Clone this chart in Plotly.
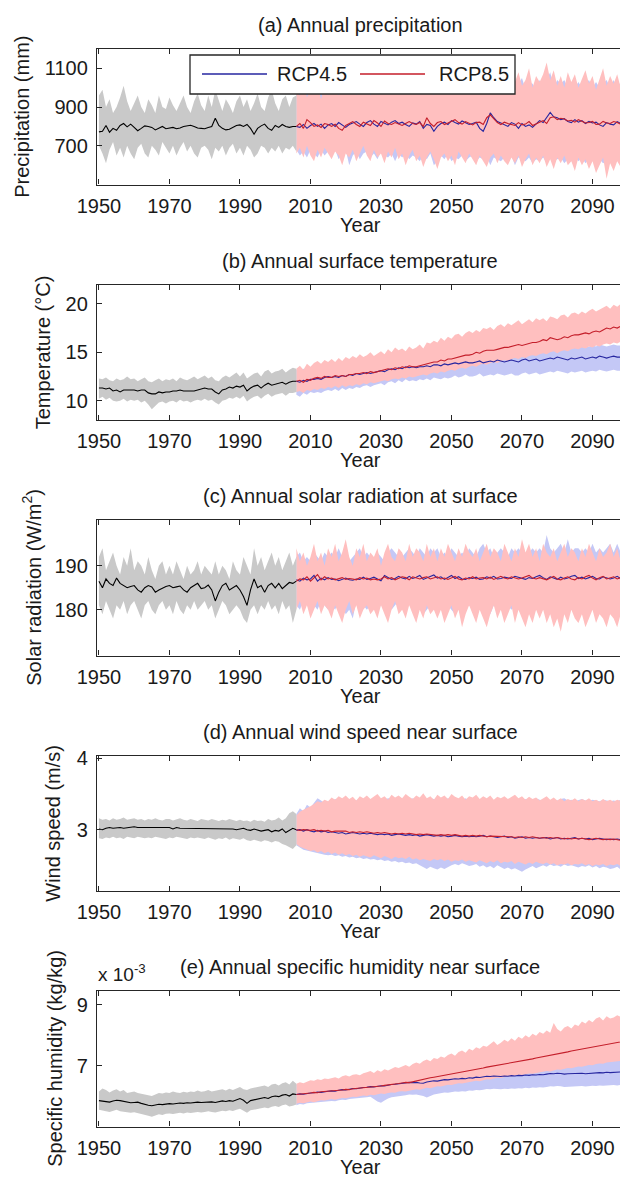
import plotly.graph_objects as go

# ---------------------------------------------------------------- data
hist_years = list(range(1950, 2007))      # historical run (black)
future_years = list(range(2006, 2101))    # RCP scenarios

# (a) precipitation (mm)
precip_hist_mean = [772, 775, 805, 770, 790, 780, 805, 815, 798, 812,
                    795, 778, 790, 803, 800, 795, 782, 792, 800, 788,
                    790, 795, 788, 792, 800, 803, 806, 800, 792, 790,
                    788, 795, 800, 842, 805, 790, 782, 785, 795, 805,
                    808, 800, 810, 790, 760, 790, 803, 812, 790, 780,
                    805, 795, 810, 800, 795, 800, 800]
precip_hist_hi = [960, 990, 900, 940, 870, 900, 950, 1010, 930, 880,
                  920, 960, 900, 870, 940, 910, 870, 960, 900, 890,
                  950, 910, 880, 920, 960, 900, 870, 930, 970, 910,
                  880, 960, 900, 990, 930, 880, 940, 910, 870, 930,
                  960, 900, 940, 880, 920, 970, 900, 880, 950, 990,
                  920, 880, 940, 960, 900, 950, 960]
precip_hist_lo = [700, 660, 610, 680, 720, 650, 690, 640, 700, 660,
                  630, 690, 710, 660, 640, 700, 680, 650, 720, 690,
                  660, 700, 650, 690, 720, 670, 700, 660, 640, 690,
                  700, 680, 630, 690, 670, 700, 650, 690, 710, 660,
                  690, 650, 700, 680, 640, 660, 700, 690, 660, 690,
                  670, 700, 660, 690, 680, 700, 670]
precip_85_mean = [800, 815, 790, 835, 820, 800, 808, 795, 815, 810,
                  800, 812, 790, 780, 805, 815, 825, 810, 800, 822,
                  812, 805, 830, 818, 800, 828, 815, 810, 820, 812,
                  805, 815, 825, 815, 810, 820, 800, 845, 815, 800,
                  820, 825, 810, 818, 828, 835, 820, 812, 825, 815,
                  808, 820, 822, 810, 845, 860, 842, 820, 810, 822,
                  815, 810, 805, 820, 808, 812, 825, 805, 815, 822,
                  830, 815, 845, 850, 835, 842, 838, 828, 832, 822,
                  835, 825, 818, 820, 826, 810, 812, 826, 818, 815,
                  825, 820, 812, 830, 822]
precip_45_mean = [800, 795, 810, 790, 805, 815, 800, 812, 790, 808,
                  815, 800, 820, 808, 795, 810, 818, 825, 812, 800,
                  820, 830, 812, 800, 826, 815, 808, 822, 830, 815,
                  822, 810, 800, 818, 812, 825, 790, 810, 805, 775,
                  800, 815, 822, 810, 830, 820, 812, 828, 818, 810,
                  815, 822, 790, 775, 815, 870, 845, 825, 818, 810,
                  800, 820, 812, 790, 815, 800, 808, 795, 812, 830,
                  820, 845, 872, 850, 845, 835, 840, 826, 820, 835,
                  822, 830, 815, 826, 818, 822, 808, 800, 820, 812,
                  808, 825, 815, 805, 820]
precip_85_hi = [980, 960, 1040, 950, 1000, 980, 1020, 940, 1010, 960,
                1060, 1000, 960, 1040, 990, 1080, 1010, 960, 1050, 990,
                1000, 960, 1040, 1080, 990, 1020, 1110, 970, 1040, 1000,
                1030, 970, 1090, 1000, 1060, 1100, 990, 1050, 1020, 960,
                1040, 990, 1070, 1010, 1060, 980, 1030, 1090, 1000, 1050,
                990, 1070, 1020, 1060, 980, 1040, 1080, 1000, 1050, 1010,
                1060, 990, 1030, 1080, 1010, 1040, 1100, 1000, 1060, 1030,
                1070, 1130, 1040, 1090, 1010, 1060, 1000, 1080, 1030, 1070,
                1000, 1050, 1090, 1020, 1060, 990, 1040, 1100, 1010, 1060,
                1020, 1070, 1000, 1050, 1030]
precip_85_lo = [660, 690, 640, 700, 650, 620, 680, 640, 690, 660,
                630, 670, 650, 600, 660, 640, 680, 620, 660, 700,
                650, 620, 680, 640, 660, 610, 670, 640, 690, 630,
                660, 600, 650, 680, 620, 650, 590, 640, 670, 630,
                580, 640, 660, 620, 650, 600, 670, 640, 610, 660,
                630, 600, 650, 620, 590, 640, 660, 610, 650, 620,
                600, 640, 610, 650, 590, 630, 660, 600, 640, 610,
                650, 590, 630, 580, 640, 610, 650, 600, 620, 570,
                640, 600, 630, 580, 620, 560, 600, 640, 530, 610,
                570, 620, 590, 630, 600]
precip_45_hi = [960, 1000, 980, 1010, 970, 1000, 960, 1000, 980, 1000,
                1000, 990, 1040, 960, 1000, 1000, 990, 1020, 980, 1000,
                980, 1040, 990, 1000, 1020, 990, 1000, 1050, 990, 1020,
                1000, 1040, 980, 1020, 1000, 1010, 1040, 990, 1000, 1010,
                990, 1030, 1000, 1040, 1000, 1020, 990, 1000, 1040, 990,
                1030, 1000, 1040, 990, 1020, 1000, 1020, 1040, 990, 1030,
                1000, 1030, 1000, 1020, 1050, 990, 1030, 1020, 990, 1040,
                1000, 1040, 1080, 1000, 1040, 1020, 1040, 1000, 1020, 1000,
                1030, 1000, 1020, 1040, 1000, 1030, 1000, 1020, 1040, 1000,
                1040, 1000, 1030, 1000, 1020]
precip_45_lo = [680, 650, 670, 640, 680, 660, 640, 680, 650, 670,
                650, 680, 630, 660, 680, 600, 650, 670, 630, 660,
                670, 640, 660, 630, 670, 650, 640, 660, 620, 660,
                640, 660, 630, 650, 640, 620, 650, 630, 660, 600,
                620, 650, 630, 660, 620, 640, 630, 650, 620, 640,
                650, 620, 640, 630, 650, 600, 640, 630, 620, 640,
                620, 650, 600, 640, 630, 620, 640, 610, 630, 620,
                640, 610, 650, 620, 630, 640, 610, 630, 620, 640,
                620, 640, 610, 630, 640, 600, 630, 610, 620, 630,
                610, 630, 600, 620, 610]

# (b) surface temperature (deg C)
temp_hist_mean = [11.3, 11.3, 11.2, 11.3, 11.0, 11.1, 10.9, 11.1, 11.1, 11.1,
                  11.1, 11.0, 11.1, 11.1, 10.8, 10.7, 10.7, 10.9, 10.8, 10.9,
                  10.9, 11.0, 11.0, 11.1, 11.0, 11.0, 11.0, 11.0, 11.1, 11.2,
                  11.3, 11.2, 11.2, 10.9, 10.7, 11.1, 11.2, 11.4, 11.3, 11.5,
                  11.4, 11.6, 11.0, 11.3, 11.5, 11.6, 11.3, 11.6, 11.8, 11.6,
                  11.7, 11.8, 11.9, 11.7, 11.9, 12.0, 12.0]
temp_hist_hi = [12.3, 12.2, 12.4, 12.1, 12.0, 12.3, 12.1, 12.2, 12.5, 12.2,
                12.3, 12.0, 12.2, 12.4, 12.0, 11.9, 12.1, 12.3, 12.0, 12.2,
                12.1, 12.3, 12.0, 12.4, 12.2, 12.1, 12.3, 12.5, 12.2, 12.4,
                12.6, 12.3, 12.5, 12.1, 12.0, 12.4, 12.6, 12.4, 12.7, 12.9,
                12.5, 12.9, 12.3, 12.6, 12.8, 12.9, 12.5, 13.0, 13.2, 12.8,
                13.0, 13.1, 13.3, 12.9, 13.2, 13.4, 13.3]
temp_hist_lo = [10.2, 10.4, 10.1, 10.3, 10.0, 9.9, 10.0, 10.2, 9.9, 10.1,
                10.0, 10.1, 9.8, 10.0, 9.6, 9.1, 9.5, 9.8, 9.9, 9.7,
                9.9, 10.0, 9.8, 10.1, 9.9, 10.0, 9.8, 10.0, 10.1, 10.0,
                10.2, 10.0, 10.1, 9.8, 9.6, 10.0, 10.1, 10.3, 10.2, 10.4,
                10.2, 10.5, 9.9, 10.2, 10.4, 10.5, 10.2, 10.5, 10.7, 10.4,
                10.6, 10.7, 10.8, 10.5, 10.8, 10.8, 10.9]
temp_85_mean = [12.0, 12.1, 11.9, 12.2, 12.1, 12.3, 12.4, 12.3, 12.5, 12.4,
                12.4, 12.6, 12.5, 12.6, 12.5, 12.7, 12.7, 12.8, 12.8, 12.9,
                12.8, 13.0, 12.9, 13.0, 13.1, 13.2, 13.3, 13.2, 13.4, 13.3,
                13.5, 13.4, 13.6, 13.5, 13.5, 13.6, 13.7, 13.8, 13.9, 14.0,
                14.0, 14.2, 14.1, 14.3, 14.3, 14.4, 14.5, 14.6, 14.7, 14.7,
                14.8, 15.0, 14.9, 15.1, 15.2, 15.2, 15.2, 15.3, 15.4, 15.5,
                15.5, 15.6, 15.7, 15.8, 15.7, 15.8, 15.9, 16.0, 16.0, 16.1,
                16.3, 16.2, 16.5, 16.4, 16.3, 16.4, 16.6, 16.5, 16.7, 16.8,
                16.8, 16.9, 17.0, 16.9, 17.1, 17.2, 17.1, 17.3, 17.5, 17.4,
                17.6, 17.5, 17.7, 17.8, 17.8]
temp_45_mean = [12.0, 11.9, 12.1, 12.0, 12.2, 12.2, 12.3, 12.2, 12.4, 12.5,
                12.4, 12.5, 12.4, 12.6, 12.5, 12.7, 12.6, 12.8, 12.7, 12.8,
                12.9, 12.8, 12.9, 13.0, 13.1, 13.0, 13.2, 13.3, 13.2, 13.4,
                13.3, 13.5, 13.4, 13.5, 13.4, 13.5, 13.5, 13.6, 13.5, 13.7,
                13.7, 13.6, 13.8, 13.7, 13.8, 13.9, 13.8, 13.9, 14.0, 13.9,
                13.9, 14.0, 14.1, 13.9, 14.0, 14.1, 14.0, 14.2, 14.1, 14.0,
                14.1, 14.2, 14.1, 14.0, 14.2, 14.3, 14.1, 14.2, 14.3, 14.1,
                14.2, 14.3, 14.4, 14.3, 14.5, 14.4, 14.3, 14.2, 14.4, 14.3,
                14.4, 14.5, 14.3, 14.4, 14.5, 14.4, 14.6, 14.5, 14.4, 14.5,
                14.6, 14.5, 14.5, 14.6, 14.6]
temp_85_hi = [13.3, 13.6, 13.2, 13.8, 13.5, 13.9, 14.1, 13.8, 14.2, 14.0,
              14.3, 14.0, 14.4, 14.1, 14.5, 14.3, 14.6, 14.4, 14.8, 14.5,
              14.7, 15.0, 14.6, 14.9, 15.1, 14.8, 15.3, 15.0, 15.5, 15.2,
              15.4, 15.1, 15.6, 15.3, 15.5, 15.8, 15.4, 16.0, 15.9, 16.2,
              16.0, 16.5, 16.2, 16.6, 16.4, 16.8, 16.9, 16.6, 17.0, 17.2,
              17.0, 17.3, 17.1, 17.5, 17.4, 17.6, 17.3, 17.7, 17.9, 17.6,
              18.0, 17.8, 18.1, 18.3, 17.9, 18.2, 18.4, 18.1, 18.5, 18.3,
              18.5, 18.2, 18.7, 18.6, 18.4, 18.8, 18.9, 18.6, 19.0, 19.1,
              18.9, 19.2, 19.0, 19.3, 19.5, 19.2, 19.4, 19.6, 19.8, 19.5,
              19.9, 19.7, 20.0, 20.1, 20.0]
temp_85_lo = [10.9, 11.0, 10.8, 11.1, 11.0, 11.2, 11.1, 11.3, 11.2, 11.4,
              11.3, 11.5, 11.3, 11.6, 11.4, 11.6, 11.5, 11.7, 11.6, 11.8,
              11.7, 11.9, 11.8, 11.9, 12.0, 12.1, 12.0, 12.2, 12.3, 12.2,
              12.4, 12.3, 12.5, 12.4, 12.5, 12.6, 12.7, 12.6, 12.8, 12.9,
              12.8, 13.0, 12.9, 13.1, 13.2, 13.1, 13.3, 13.4, 13.3, 13.5,
              13.6, 13.5, 13.7, 13.8, 13.7, 13.9, 14.0, 13.9, 14.1, 14.2,
              14.1, 14.3, 14.4, 14.3, 14.5, 14.4, 14.6, 14.7, 14.6, 14.8,
              14.9, 14.8, 15.0, 15.1, 14.9, 15.1, 15.2, 15.1, 15.3, 15.4,
              15.3, 15.5, 15.4, 15.6, 15.5, 15.7, 15.6, 15.8, 15.9, 15.8,
              16.0, 15.9, 16.1, 16.2, 16.1]
temp_45_hi = [13.2, 13.0, 13.3, 13.2, 13.4, 13.4, 13.5, 13.3, 13.6, 13.7,
              13.6, 13.7, 13.6, 13.8, 13.7, 13.9, 13.8, 14.0, 13.9, 14.0,
              14.1, 14.0, 14.1, 14.2, 14.3, 14.2, 14.4, 14.5, 14.4, 14.6,
              14.5, 14.7, 14.6, 14.7, 14.6, 14.7, 14.7, 14.8, 14.7, 14.9,
              14.9, 14.8, 15.0, 14.9, 15.0, 15.1, 15.0, 15.1, 15.2, 15.1,
              15.1, 15.2, 15.3, 15.1, 15.2, 15.3, 15.2, 15.4, 15.3, 15.2,
              15.3, 15.4, 15.3, 15.2, 15.4, 15.5, 15.3, 15.4, 15.5, 15.3,
              15.4, 15.5, 15.6, 15.5, 15.7, 15.6, 15.5, 15.4, 15.6, 15.5,
              15.6, 15.7, 15.5, 15.6, 15.7, 15.6, 15.8, 15.7, 15.6, 15.7,
              15.8, 15.7, 15.7, 15.8, 15.8]
temp_45_lo = [10.6, 10.4, 10.8, 10.6, 10.9, 10.8, 10.9, 10.8, 11.0, 11.1,
              11.0, 11.2, 11.0, 11.3, 11.1, 11.3, 11.2, 11.4, 11.3, 11.5,
              11.6, 11.4, 11.6, 11.7, 11.8, 11.6, 11.9, 12.0, 11.8, 12.1,
              11.9, 12.2, 12.0, 12.1, 12.0, 12.2, 12.1, 12.3, 12.1, 12.4,
              12.3, 12.2, 12.4, 12.3, 12.4, 12.6, 12.4, 12.5, 12.7, 12.5,
              12.5, 12.6, 12.8, 12.5, 12.6, 12.7, 12.6, 12.8, 12.7, 12.6,
              12.7, 12.8, 12.6, 12.6, 12.8, 12.9, 12.7, 12.8, 12.9, 12.7,
              12.8, 12.9, 13.0, 12.9, 13.1, 13.0, 12.9, 12.8, 13.0, 12.9,
              13.0, 13.1, 12.9, 13.0, 13.1, 13.0, 13.2, 13.1, 13.0, 13.1,
              13.2, 13.1, 13.1, 13.2, 13.2]

# (c) solar radiation at surface (W/m2)
solar_hist_mean = [186.5, 185.0, 187.0, 186.0, 185.5, 187.2, 186.0, 185.5, 185.0, 185.3,
                   185.5, 184.5, 184.0, 185.0, 185.5, 185.2, 184.0, 184.5, 185.0, 185.3,
                   185.5, 185.0, 185.2, 185.4, 184.5, 184.0, 185.0, 185.5, 186.0, 184.8,
                   185.0, 185.6, 184.5, 182.0, 184.0, 185.5, 186.0, 184.5, 185.0, 185.5,
                   184.5, 183.0, 181.0, 184.5, 187.0, 185.0, 185.5, 184.0, 185.5, 186.0,
                   185.0, 186.0, 184.8, 185.5, 186.2, 186.0, 186.5]
solar_hist_hi = [192, 194, 189, 191, 193, 190, 188, 192, 190, 194,
                 189, 191, 190, 188, 192, 189, 187, 190, 191, 188,
                 190, 188, 191, 189, 187, 190, 188, 189, 191, 188,
                 190, 189, 188, 191, 188, 190, 189, 187, 191, 189,
                 188, 192, 190, 188, 194, 190, 192, 189, 191, 193,
                 190, 192, 189, 191, 193, 190, 192]
solar_hist_lo = [181, 179, 182, 180, 178, 181, 180, 182, 179, 181,
                 182, 180, 178, 181, 182, 180, 179, 181, 182, 180,
                 181, 179, 182, 180, 179, 181, 180, 182, 180, 181,
                 182, 180, 181, 178, 180, 182, 181, 179, 180, 181,
                 180, 178, 177, 180, 181, 179, 181, 180, 182, 180,
                 181, 179, 182, 180, 181, 177, 180]
solar_85_mean = [186.5, 187.0, 186.8, 187.5, 186.5, 187.2, 188.0, 186.8, 187.5, 187.0,
                 187.2, 186.8, 187.0, 187.3, 186.9, 187.1, 187.0, 186.8, 187.3, 187.0,
                 187.2, 186.8, 187.0, 186.8, 187.0, 187.5, 187.0, 187.3, 186.8, 187.2,
                 187.5, 187.3, 186.8, 187.5, 187.2, 187.0, 187.3, 187.5, 187.0, 187.2,
                 187.5, 187.0, 187.2, 186.9, 187.3, 187.6, 187.0, 186.8, 187.2, 187.0,
                 187.5, 187.0, 187.2, 187.3, 187.0, 187.4, 186.9, 187.3, 187.6, 187.2,
                 187.0, 187.5, 187.3, 187.0, 187.2, 187.5, 187.8, 187.2, 187.0, 187.3,
                 187.0, 186.8, 187.2, 187.6, 187.0, 186.8, 187.2, 187.5, 187.0, 186.8,
                 187.3, 187.0, 187.5, 187.8, 187.2, 186.8, 187.3, 187.6, 187.0, 187.2,
                 187.5, 187.0, 187.3, 187.6, 187.2]
solar_45_mean = [186.8, 186.5, 187.2, 186.8, 187.0, 187.8, 186.5, 187.2, 186.8, 187.3,
                 186.9, 187.0, 186.6, 186.9, 187.2, 186.8, 186.7, 187.0, 186.9, 187.4,
                 186.9, 187.1, 187.4, 187.0, 186.6, 187.8, 187.3, 186.9, 187.1, 187.6,
                 187.2, 187.0, 187.6, 187.1, 187.4, 187.8, 186.9, 187.2, 187.6, 187.9,
                 187.2, 187.5, 186.9, 187.3, 187.8, 187.1, 187.5, 187.0, 186.9, 187.3,
                 187.1, 187.4, 186.9, 187.0, 187.5, 187.2, 187.6, 187.0, 187.1, 187.4,
                 187.3, 187.1, 187.6, 187.4, 187.1, 186.9, 187.3, 187.1, 187.5, 187.8,
                 187.3, 186.9, 187.5, 187.2, 186.9, 187.4, 187.0, 187.2, 187.6, 187.8,
                 187.1, 187.4, 187.0, 187.3, 187.6, 187.1, 187.0, 187.5, 187.3, 187.0,
                 187.2, 187.6, 187.1, 187.3, 187.4]
solar_85_hi = [194, 191, 193, 190, 192, 195, 191, 193, 190, 194,
               192, 195, 191, 193, 196, 192, 190, 194, 192, 195,
               191, 193, 192, 194, 190, 193, 195, 192, 191, 194,
               193, 191, 195, 192, 194, 193, 191, 195, 192, 194,
               191, 194, 192, 195, 193, 191, 194, 192, 195, 193,
               192, 194, 191, 193, 195, 192, 194, 193, 191, 195,
               193, 191, 194, 192, 196, 193, 195, 192, 194, 191,
               195, 193, 192, 194, 191, 193, 195, 192, 194, 193,
               191, 194, 192, 195, 193, 191, 194, 192, 193, 195,
               192, 194, 191, 193, 192]
solar_85_lo = [180, 182, 179, 181, 178, 180, 182, 179, 181, 180,
               178, 181, 179, 177, 180, 182, 179, 181, 178, 180,
               181, 179, 180, 178, 181, 179, 177, 180, 182, 179,
               180, 178, 181, 179, 177, 180, 178, 181, 179, 180,
               178, 180, 177, 179, 181, 178, 180, 176, 179, 181,
               179, 177, 180, 178, 176, 179, 181, 178, 180, 177,
               179, 181, 177, 180, 178, 176, 179, 177, 180, 178,
               180, 177, 179, 176, 178, 175, 179, 177, 180, 178,
               177, 179, 176, 178, 180, 177, 179, 178, 176, 179,
               178, 176, 179, 177, 178]
solar_45_hi = [192, 193, 191, 192, 191, 193, 192, 191, 193, 192,
               193, 192, 194, 192, 193, 191, 192, 193, 194, 192,
               193, 192, 191, 193, 192, 191, 193, 194, 193, 192,
               192, 193, 194, 193, 192, 194, 193, 192, 194, 193,
               194, 192, 193, 192, 194, 193, 192, 193, 192, 194,
               193, 192, 194, 195, 193, 194, 192, 193, 194, 193,
               192, 194, 193, 194, 193, 192, 193, 194, 193, 194,
               193, 197, 194, 193, 194, 195, 193, 196, 193, 194,
               194, 193, 194, 193, 195, 193, 194, 193, 194, 195,
               193, 195, 193, 194, 193]
solar_45_lo = [181, 180, 182, 181, 180, 181, 180, 182, 181, 180,
               181, 180, 182, 181, 179, 180, 178, 182, 180, 181,
               180, 181, 182, 180, 181, 182, 181, 180, 181, 182,
               181, 180, 182, 181, 180, 181, 179, 180, 181, 180,
               181, 180, 182, 181, 180, 179, 181, 180, 182, 181,
               180, 181, 182, 181, 180, 179, 181, 180, 181, 180,
               181, 180, 181, 180, 179, 181, 180, 181, 180, 181,
               180, 181, 180, 179, 181, 180, 181, 179, 180, 181,
               180, 181, 180, 181, 180, 179, 181, 180, 181, 180,
               181, 180, 181, 180, 181]

# (d) wind speed near surface (m/s)
wind_hist_mean = [3.01, 3.00, 3.02, 3.03, 3.02, 3.03, 3.03, 3.02, 3.03, 3.03,
                  3.04, 3.03, 3.03, 3.02, 3.03, 3.02, 3.02, 3.02, 3.03, 3.02,
                  3.03, 3.01, 3.03, 3.02, 3.02, 3.02, 3.01, 3.02, 3.02, 3.01,
                  3.02, 3.01, 3.01, 3.02, 3.01, 3.01, 3.02, 3.01, 3.01, 3.00,
                  3.01, 3.02, 3.00, 2.99, 3.01, 2.99, 2.98, 2.99, 3.00, 2.97,
                  2.99, 2.98, 3.01, 2.96, 2.99, 3.02, 3.00]
wind_hist_hi = [3.16, 3.14, 3.15, 3.13, 3.16, 3.14, 3.15, 3.17, 3.14, 3.15,
                3.16, 3.14, 3.15, 3.13, 3.15, 3.14, 3.16, 3.14, 3.13, 3.15,
                3.15, 3.13, 3.14, 3.16, 3.14, 3.13, 3.15, 3.14, 3.12, 3.15,
                3.14, 3.13, 3.15, 3.13, 3.12, 3.14, 3.13, 3.15, 3.13, 3.12,
                3.14, 3.12, 3.13, 3.11, 3.14, 3.12, 3.13, 3.11, 3.15, 3.13,
                3.14, 3.17, 3.13, 3.16, 3.23, 3.26, 3.22]
wind_hist_lo = [2.88, 2.87, 2.89, 2.88, 2.90, 2.88, 2.89, 2.87, 2.90, 2.89,
                2.88, 2.90, 2.89, 2.88, 2.89, 2.88, 2.90, 2.89, 2.88, 2.87,
                2.89, 2.88, 2.90, 2.89, 2.88, 2.87, 2.89, 2.88, 2.89, 2.88,
                2.87, 2.89, 2.88, 2.86, 2.88, 2.87, 2.89, 2.86, 2.88, 2.87,
                2.86, 2.88, 2.85, 2.84, 2.86, 2.84, 2.83, 2.85, 2.84, 2.82,
                2.84, 2.83, 2.80, 2.78, 2.76, 2.73, 2.78]
wind_85_mean = [3.00, 2.99, 3.00, 2.99, 2.99, 3.00, 2.98, 2.99, 2.98, 2.99,
                2.97, 2.98, 2.98, 2.97, 2.98, 2.96, 2.97, 2.96, 2.97, 2.96,
                2.97, 2.96, 2.95, 2.96, 2.95, 2.96, 2.95, 2.94, 2.95, 2.94,
                2.95, 2.94, 2.95, 2.94, 2.93, 2.94, 2.93, 2.94, 2.93, 2.93,
                2.92, 2.93, 2.92, 2.93, 2.92, 2.93, 2.92, 2.91, 2.92, 2.91,
                2.92, 2.91, 2.92, 2.91, 2.90, 2.91, 2.91, 2.90, 2.91, 2.90,
                2.91, 2.90, 2.89, 2.90, 2.89, 2.90, 2.89, 2.90, 2.89, 2.88,
                2.89, 2.88, 2.89, 2.88, 2.89, 2.88, 2.87, 2.88, 2.87, 2.88,
                2.87, 2.88, 2.87, 2.86, 2.87, 2.88, 2.87, 2.86, 2.87, 2.86,
                2.87, 2.86, 2.85, 2.86, 2.85]
wind_45_mean = [2.99, 3.00, 2.98, 3.00, 2.98, 2.97, 2.99, 2.97, 2.98, 2.96,
                2.97, 2.96, 2.95, 2.96, 2.94, 2.95, 2.96, 2.95, 2.94, 2.95,
                2.94, 2.95, 2.94, 2.93, 2.94, 2.93, 2.94, 2.92, 2.93, 2.94,
                2.93, 2.92, 2.93, 2.92, 2.93, 2.91, 2.92, 2.93, 2.92, 2.91,
                2.92, 2.91, 2.92, 2.90, 2.91, 2.92, 2.91, 2.90, 2.91, 2.90,
                2.91, 2.90, 2.91, 2.92, 2.90, 2.91, 2.90, 2.89, 2.90, 2.91,
                2.89, 2.90, 2.88, 2.89, 2.90, 2.88, 2.89, 2.88, 2.89, 2.88,
                2.88, 2.89, 2.87, 2.88, 2.89, 2.87, 2.88, 2.87, 2.88, 2.89,
                2.87, 2.88, 2.87, 2.88, 2.86, 2.87, 2.88, 2.87, 2.86, 2.87,
                2.86, 2.87, 2.86, 2.85, 2.86]
wind_85_hi = [3.20, 3.25, 3.28, 3.30, 3.33, 3.36, 3.40, 3.38, 3.42, 3.40,
              3.45, 3.42, 3.47, 3.44, 3.48, 3.43, 3.46, 3.41, 3.47, 3.44,
              3.48, 3.43, 3.46, 3.50, 3.44, 3.47, 3.42, 3.49, 3.45, 3.48,
              3.44, 3.50, 3.46, 3.43, 3.48, 3.45, 3.51, 3.44, 3.47, 3.42,
              3.49, 3.45, 3.48, 3.43, 3.50, 3.46, 3.44, 3.48, 3.42, 3.47,
              3.45, 3.49, 3.43, 3.47, 3.44, 3.48, 3.42, 3.46, 3.44, 3.47,
              3.43, 3.46, 3.49, 3.44, 3.47, 3.42, 3.46, 3.43, 3.45, 3.41,
              3.44, 3.47, 3.42, 3.45, 3.41, 3.44, 3.40, 3.43, 3.41, 3.44,
              3.40, 3.43, 3.41, 3.44, 3.40, 3.42, 3.39, 3.43, 3.40, 3.42,
              3.39, 3.42, 3.40, 3.43, 3.41]
wind_85_lo = [2.80, 2.76, 2.74, 2.72, 2.70, 2.71, 2.68, 2.70, 2.67, 2.69,
              2.66, 2.68, 2.65, 2.67, 2.64, 2.66, 2.63, 2.65, 2.62, 2.64,
              2.63, 2.61, 2.64, 2.62, 2.60, 2.63, 2.61, 2.59, 2.62, 2.60,
              2.61, 2.59, 2.62, 2.58, 2.60, 2.57, 2.59, 2.58, 2.56, 2.59,
              2.57, 2.59, 2.56, 2.58, 2.55, 2.57, 2.56, 2.58, 2.55, 2.57,
              2.56, 2.54, 2.57, 2.55, 2.53, 2.56, 2.54, 2.57, 2.53, 2.55,
              2.54, 2.56, 2.52, 2.55, 2.53, 2.51, 2.54, 2.52, 2.55, 2.53,
              2.52, 2.54, 2.51, 2.53, 2.50, 2.52, 2.51, 2.53, 2.50, 2.52,
              2.51, 2.53, 2.50, 2.52, 2.49, 2.51, 2.50, 2.52, 2.49, 2.51,
              2.50, 2.52, 2.49, 2.51, 2.50]
wind_45_hi = [3.22, 3.30, 3.26, 3.35, 3.31, 3.38, 3.44, 3.41, 3.37, 3.39,
              3.40, 3.43, 3.41, 3.42, 3.44, 3.42, 3.43, 3.41, 3.44, 3.42,
              3.43, 3.42, 3.44, 3.41, 3.43, 3.42, 3.44, 3.43, 3.42, 3.44,
              3.42, 3.43, 3.41, 3.44, 3.42, 3.43, 3.41, 3.42, 3.44, 3.43,
              3.41, 3.43, 3.42, 3.44, 3.42, 3.41, 3.43, 3.42, 3.44, 3.41,
              3.43, 3.42, 3.41, 3.43, 3.42, 3.44, 3.41, 3.43, 3.42, 3.40,
              3.42, 3.41, 3.43, 3.42, 3.40, 3.43, 3.41, 3.42, 3.44, 3.42,
              3.41, 3.43, 3.40, 3.42, 3.41, 3.43, 3.44, 3.41, 3.42, 3.40,
              3.42, 3.43, 3.41, 3.40, 3.42, 3.41, 3.40, 3.42, 3.41, 3.40,
              3.41, 3.40, 3.42, 3.41, 3.40]
wind_45_lo = [2.78, 2.75, 2.72, 2.70, 2.69, 2.68, 2.67, 2.66, 2.65, 2.64,
              2.65, 2.63, 2.64, 2.62, 2.63, 2.61, 2.62, 2.60, 2.61, 2.59,
              2.60, 2.58, 2.59, 2.57, 2.58, 2.56, 2.57, 2.55, 2.56, 2.54,
              2.55, 2.53, 2.54, 2.52, 2.53, 2.50, 2.47, 2.45, 2.48, 2.46,
              2.44, 2.47, 2.45, 2.48, 2.50, 2.52, 2.50, 2.53, 2.51, 2.49,
              2.50, 2.52, 2.48, 2.50, 2.47, 2.49, 2.46, 2.50, 2.48, 2.45,
              2.47, 2.44, 2.46, 2.43, 2.41, 2.44, 2.47, 2.49, 2.46, 2.48,
              2.50, 2.48, 2.51, 2.49, 2.50, 2.48, 2.51, 2.49, 2.50, 2.48,
              2.47, 2.49, 2.48, 2.50, 2.47, 2.49, 2.46, 2.48, 2.47, 2.45,
              2.46, 2.48, 2.44, 2.46, 2.45]

# (e) specific humidity near surface (x 10^-3 kg/kg)
hum_hist_mean = [5.85, 5.83, 5.82, 5.80, 5.84, 5.86, 5.85, 5.82, 5.80, 5.78,
                 5.79, 5.80, 5.76, 5.72, 5.70, 5.68, 5.70, 5.73, 5.72, 5.74,
                 5.75, 5.74, 5.76, 5.77, 5.76, 5.78, 5.77, 5.79, 5.80, 5.79,
                 5.80, 5.82, 5.81, 5.79, 5.82, 5.84, 5.82, 5.85, 5.83, 5.88,
                 5.92, 5.86, 5.76, 5.85, 5.88, 5.90, 5.93, 5.95, 5.92, 5.98,
                 6.00, 5.98, 6.03, 6.05, 6.00, 6.07, 6.05]
hum_hist_hi = [6.15, 6.25, 6.20, 6.12, 6.18, 6.22, 6.15, 6.20, 6.10, 6.12,
               6.15, 6.10, 6.08, 6.05, 6.02, 6.00, 6.05, 6.10, 6.08, 6.12,
               6.10, 6.15, 6.12, 6.10, 6.14, 6.12, 6.15, 6.13, 6.18, 6.14,
               6.16, 6.20, 6.15, 6.18, 6.20, 6.22, 6.18, 6.24, 6.20, 6.26,
               6.30, 6.22, 6.20, 6.25, 6.28, 6.30, 6.32, 6.35, 6.30, 6.38,
               6.40, 6.35, 6.42, 6.45, 6.38, 6.50, 6.40]
hum_hist_lo = [5.55, 5.52, 5.50, 5.48, 5.52, 5.55, 5.50, 5.48, 5.46, 5.45,
               5.47, 5.45, 5.42, 5.38, 5.35, 5.32, 5.36, 5.40, 5.38, 5.42,
               5.43, 5.41, 5.44, 5.45, 5.43, 5.46, 5.44, 5.47, 5.48, 5.46,
               5.48, 5.50, 5.48, 5.46, 5.50, 5.52, 5.50, 5.53, 5.51, 5.55,
               5.58, 5.52, 5.45, 5.53, 5.56, 5.58, 5.60, 5.62, 5.60, 5.65,
               5.67, 5.64, 5.70, 5.72, 5.66, 5.68, 5.72]
hum_85_mean = [6.05, 6.06, 6.08, 6.07, 6.10, 6.12, 6.11, 6.14, 6.15, 6.14,
               6.17, 6.18, 6.17, 6.20, 6.22, 6.21, 6.24, 6.25, 6.27, 6.26,
               6.28, 6.30, 6.29, 6.32, 6.33, 6.35, 6.36, 6.38, 6.40, 6.41,
               6.43, 6.45, 6.44, 6.47, 6.50, 6.52, 6.55, 6.58, 6.60, 6.62,
               6.64, 6.66, 6.68, 6.70, 6.73, 6.75, 6.76, 6.78, 6.80, 6.83,
               6.85, 6.87, 6.90, 6.92, 6.95, 6.97, 6.99, 7.00, 7.02, 7.05,
               7.07, 7.09, 7.12, 7.14, 7.15, 7.18, 7.20, 7.22, 7.25, 7.27,
               7.30, 7.32, 7.34, 7.36, 7.38, 7.40, 7.43, 7.45, 7.48, 7.50,
               7.52, 7.55, 7.57, 7.58, 7.61, 7.63, 7.65, 7.68, 7.70, 7.72,
               7.73, 7.75, 7.77, 7.80, 7.82]
hum_45_mean = [6.05, 6.07, 6.06, 6.09, 6.10, 6.11, 6.13, 6.12, 6.15, 6.16,
               6.17, 6.16, 6.19, 6.21, 6.20, 6.23, 6.25, 6.24, 6.27, 6.28,
               6.29, 6.31, 6.30, 6.33, 6.34, 6.33, 6.36, 6.38, 6.39, 6.41,
               6.42, 6.43, 6.45, 6.44, 6.45, 6.43, 6.42, 6.46, 6.48, 6.50,
               6.49, 6.52, 6.54, 6.53, 6.55, 6.57, 6.56, 6.58, 6.57, 6.60,
               6.59, 6.62, 6.61, 6.63, 6.65, 6.64, 6.66, 6.65, 6.64, 6.66,
               6.65, 6.67, 6.66, 6.68, 6.67, 6.69, 6.68, 6.70, 6.69, 6.71,
               6.70, 6.72, 6.74, 6.73, 6.75, 6.74, 6.72, 6.73, 6.74, 6.73,
               6.74, 6.75, 6.73, 6.74, 6.76, 6.75, 6.77, 6.76, 6.78, 6.77,
               6.78, 6.77, 6.79, 6.78, 6.80]
hum_85_hi = [6.40, 6.45, 6.42, 6.48, 6.52, 6.50, 6.55, 6.53, 6.58, 6.56,
             6.60, 6.62, 6.58, 6.65, 6.68, 6.64, 6.70, 6.72, 6.68, 6.75,
             6.78, 6.82, 6.76, 6.85, 6.80, 6.88, 6.84, 6.90, 6.95, 6.92,
             6.98, 7.02, 6.96, 7.05, 7.10, 7.06, 7.15, 7.20, 7.14, 7.25,
             7.22, 7.30, 7.26, 7.35, 7.40, 7.32, 7.45, 7.50, 7.42, 7.55,
             7.50, 7.60, 7.55, 7.65, 7.62, 7.72, 7.80, 7.68, 7.75, 7.85,
             7.78, 7.90, 7.82, 7.95, 7.88, 8.00, 7.92, 8.05, 7.98, 8.10,
             8.05, 8.15, 8.08, 8.40, 8.20, 8.12, 8.25, 8.30, 8.22, 8.35,
             8.30, 8.45, 8.38, 8.50, 8.42, 8.55, 8.60, 8.48, 8.62, 8.55,
             8.58, 8.65, 8.60, 8.68, 8.62]
hum_85_lo = [5.75, 5.78, 5.76, 5.80, 5.82, 5.80, 5.84, 5.86, 5.85, 5.88,
             5.90, 5.88, 5.92, 5.94, 5.93, 5.96, 5.98, 5.97, 6.00, 6.02,
             6.00, 6.04, 6.03, 6.06, 6.08, 6.07, 6.10, 6.12, 6.11, 6.15,
             6.16, 6.15, 6.18, 6.20, 6.22, 6.21, 6.25, 6.27, 6.26, 6.30,
             6.32, 6.31, 6.35, 6.37, 6.36, 6.40, 6.42, 6.41, 6.45, 6.47,
             6.48, 6.50, 6.49, 6.53, 6.55, 6.54, 6.58, 6.60, 6.59, 6.63,
             6.65, 6.64, 6.68, 6.70, 6.69, 6.72, 6.74, 6.73, 6.77, 6.79,
             6.80, 6.82, 6.81, 6.85, 6.87, 6.86, 6.90, 6.92, 6.91, 6.95,
             6.97, 6.96, 7.00, 7.02, 7.01, 7.05, 7.07, 7.06, 7.10, 7.12,
             7.13, 7.15, 7.14, 7.17, 7.18]
hum_45_hi = [6.38, 6.40, 6.39, 6.43, 6.44, 6.46, 6.48, 6.47, 6.50, 6.52,
             6.53, 6.52, 6.55, 6.57, 6.56, 6.59, 6.61, 6.60, 6.63, 6.64,
             6.65, 6.68, 6.66, 6.70, 6.71, 6.70, 6.73, 6.75, 6.76, 6.78,
             6.79, 6.80, 6.82, 6.81, 6.82, 6.80, 6.79, 6.83, 6.85, 6.87,
             6.86, 6.89, 6.91, 6.90, 6.92, 6.94, 6.93, 6.95, 6.94, 6.97,
             6.96, 6.99, 6.98, 7.00, 7.02, 7.01, 7.03, 7.02, 7.01, 7.03,
             7.02, 7.04, 7.03, 7.05, 7.04, 7.06, 7.05, 7.07, 7.06, 7.08,
             7.07, 7.09, 7.11, 7.10, 7.12, 7.11, 7.09, 7.10, 7.11, 7.10,
             7.11, 7.12, 7.10, 7.11, 7.13, 7.12, 7.14, 7.13, 7.15, 7.14,
             7.15, 7.14, 7.16, 7.15, 7.17]
hum_45_lo = [5.70, 5.74, 5.72, 5.76, 5.77, 5.78, 5.80, 5.79, 5.82, 5.83,
             5.84, 5.83, 5.86, 5.88, 5.87, 5.90, 5.92, 5.91, 5.94, 5.95,
             5.96, 5.98, 5.90, 5.82, 5.78, 5.85, 5.92, 5.96, 5.98, 6.00,
             6.02, 6.03, 6.05, 6.04, 6.05, 6.02, 6.00, 5.95, 6.00, 6.05,
             6.08, 6.10, 6.12, 6.11, 6.13, 6.15, 6.14, 6.16, 6.15, 6.18,
             6.17, 6.20, 6.19, 6.21, 6.23, 6.22, 6.24, 6.23, 6.22, 6.24,
             6.23, 6.25, 6.24, 6.26, 6.25, 6.27, 6.26, 6.28, 6.27, 6.29,
             6.28, 6.30, 6.32, 6.31, 6.33, 6.32, 6.30, 6.31, 6.32, 6.31,
             6.32, 6.33, 6.31, 6.32, 6.34, 6.33, 6.35, 6.34, 6.36, 6.35,
             6.36, 6.35, 6.37, 6.36, 6.38]

x_tick_years = [1950, 1970, 1990, 2010, 2030, 2050, 2070, 2090]
titles = ["(a) Annual precipitation", "(b) Annual surface temperature",
          "(c) Annual solar radiation at surface", "(d) Annual wind speed near surface",
          "(e) Annual specific humidity near surface"]
ylabels = ["Precipitation (mm)", "Temperature (°C)", "Solar radiation (W/m<sup>2</sup>)",
           "Wind speed (m/s)", "Specific humidity (kg/kg)"]
y_tickvals = [[700, 900, 1100], [10, 15, 20], [180, 190], [3, 4], [7, 9]]
legend_names = ["RCP4.5", "RCP8.5"]

series = [
    (precip_hist_mean, precip_hist_lo, precip_hist_hi, precip_45_mean, precip_45_lo, precip_45_hi,
     precip_85_mean, precip_85_lo, precip_85_hi),
    (temp_hist_mean, temp_hist_lo, temp_hist_hi, temp_45_mean, temp_45_lo, temp_45_hi,
     temp_85_mean, temp_85_lo, temp_85_hi),
    (solar_hist_mean, solar_hist_lo, solar_hist_hi, solar_45_mean, solar_45_lo, solar_45_hi,
     solar_85_mean, solar_85_lo, solar_85_hi),
    (wind_hist_mean, wind_hist_lo, wind_hist_hi, wind_45_mean, wind_45_lo, wind_45_hi,
     wind_85_mean, wind_85_lo, wind_85_hi),
    (hum_hist_mean, hum_hist_lo, hum_hist_hi, hum_45_mean, hum_45_lo, hum_45_hi,
     hum_85_mean, hum_85_lo, hum_85_hi),
]
for s in series:
    for k, arr in enumerate(s):
        n = len(hist_years) if k < 3 else len(future_years)
        assert len(arr) == n, (k, len(arr), n)

# ---------------------------------------------------------------- styling / layout
W, H = 620, 1180
FONT = "Liberation Sans, Arial, Helvetica, sans-serif"
TXT = "#1a1a1a"
AX = "#262626"
GRAY_FILL = "#c9c9c9"
PINK_FILL = "#ffbfbf"
BLUE_FILL = "#c4c8f6"
BLUE = "#2626a0"
RED = "#c41e2a"

y_ranges = [[500, 1200], [8, 22], [169.6, 200.4], [2.14, 4.04], [5.0, 9.45]]
panel_tops = [49, 284.5, 520, 755.5, 991]
PANEL_H = 135.5
X_LEFT = 97.0
X_RANGE = [1949.45, 2097.8]
ylabel_x = [22, 43, 32, 53.5, 55]
TITLE_CX = 360


def px(x):
    return x / W


def py(y):
    return 1 - y / H


fig = go.Figure()
annotations = []
shapes = []

for i, s in enumerate(series):
    (h_m, h_lo, h_hi, m45, lo45, hi45, m85, lo85, hi85) = s
    sfx = "" if i == 0 else str(i + 1)
    xa, ya = "x" + sfx, "y" + sfx

    def band(xs, lo, hi, color):
        return go.Scatter(x=xs + xs[::-1], y=hi + lo[::-1], fill="toself", fillcolor=color,
                          mode="lines", line=dict(width=0), hoverinfo="skip",
                          showlegend=False, xaxis=xa, yaxis=ya)

    fig.add_trace(band(future_years, lo45, hi45, BLUE_FILL))
    fig.add_trace(band(future_years, lo85, hi85, PINK_FILL))
    fig.add_trace(band(hist_years, h_lo, h_hi, GRAY_FILL))
    fig.add_trace(go.Scatter(x=hist_years, y=h_m, mode="lines", line=dict(color="black", width=1.1),
                             showlegend=False, xaxis=xa, yaxis=ya, name="Historical"))
    fig.add_trace(go.Scatter(x=future_years, y=m45, mode="lines", line=dict(color=BLUE, width=1.1),
                             showlegend=False, xaxis=xa, yaxis=ya, name=legend_names[0]))
    fig.add_trace(go.Scatter(x=future_years, y=m85, mode="lines", line=dict(color=RED, width=1.1),
                             showlegend=False, xaxis=xa, yaxis=ya, name=legend_names[1]))

    top = panel_tops[i]
    bot = top + PANEL_H
    fig.layout["xaxis" + sfx] = dict(
        domain=[px(X_LEFT), 1], range=X_RANGE, anchor=ya, automargin=False,
        tickmode="array", tickvals=x_tick_years, ticks="inside", ticklen=5, tickwidth=1,
        tickcolor=AX, showline=True, linecolor=AX, linewidth=1.3, mirror="ticks",
        showgrid=False, zeroline=False, ticklabelstandoff=3,
        tickfont=dict(family=FONT, size=20, color=TXT))
    fig.layout["yaxis" + sfx] = dict(
        domain=[py(bot), py(top)], range=y_ranges[i], anchor=xa, automargin=False,
        tickmode="array", tickvals=y_tickvals[i], ticks="inside", ticklen=5, tickwidth=1,
        tickcolor=AX, showline=True, linecolor=AX, linewidth=1.3, mirror=False,
        showgrid=False, zeroline=False, ticklabelstandoff=4,
        tickfont=dict(family=FONT, size=20, color=TXT))

    annotations.append(dict(x=px(TITLE_CX), y=py(top - 24), xref="paper", yref="paper",
                            text=titles[i], showarrow=False, xanchor="center", yanchor="middle",
                            font=dict(family=FONT, size=20, color=TXT)))
    annotations.append(dict(x=px(TITLE_CX), y=py(bot + 40), xref="paper", yref="paper",
                            text="Year", showarrow=False, xanchor="center", yanchor="middle",
                            font=dict(family=FONT, size=20, color=TXT)))
    annotations.append(dict(x=px(ylabel_x[i]), y=py(top + PANEL_H / 2), xref="paper", yref="paper",
                            text=ylabels[i], showarrow=False, textangle=-90,
                            xanchor="center", yanchor="middle",
                            font=dict(family=FONT, size=20, color=TXT)))

# exponent label of panel (e)
annotations.append(dict(x=px(96), y=py(973), xref="paper", yref="paper",
                        text="x 10<sup>-3</sup>", showarrow=False, xanchor="left", yanchor="middle",
                        font=dict(family=FONT, size=19, color=TXT)))

# legend box in panel (a)
LEG = dict(x0=190, x1=515, y0=55, y1=94, ly=74)
shapes.append(dict(type="rect", xref="paper", yref="paper", x0=px(LEG["x0"]), x1=px(LEG["x1"]),
                   y0=py(LEG["y1"]), y1=py(LEG["y0"]), fillcolor="white",
                   line=dict(color=AX, width=1.3), layer="above"))
for (lx0, lx1, col, tx, name) in [(202, 267, BLUE, 275, legend_names[0]),
                                  (360, 425, RED, 437, legend_names[1])]:
    shapes.append(dict(type="line", xref="paper", yref="paper", x0=px(lx0), x1=px(lx1),
                       y0=py(LEG["ly"]), y1=py(LEG["ly"]), line=dict(color=col, width=1.3),
                       layer="above"))
    annotations.append(dict(x=px(tx), y=py(LEG["ly"]), xref="paper", yref="paper", text=name,
                            showarrow=False, xanchor="left", yanchor="middle",
                            font=dict(family=FONT, size=20, color=TXT)))

fig.update_layout(template="none", width=W, height=H, autosize=False,
                  margin=dict(l=0, r=0, t=0, b=0, pad=0, autoexpand=False),
                  paper_bgcolor="white", plot_bgcolor="white",
                  showlegend=False, annotations=annotations, shapes=shapes,
                  font=dict(family=FONT, size=20, color=TXT))

fig.write_html("out.html", include_plotlyjs=True, config={"displayModeBar": False})
